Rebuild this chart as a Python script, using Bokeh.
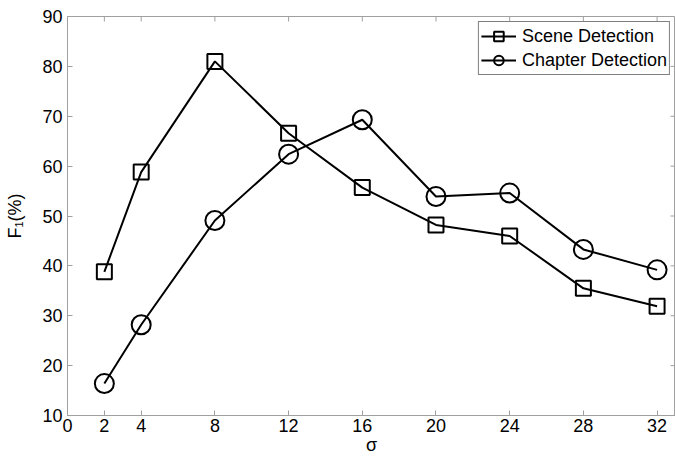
import math
from bokeh.plotting import figure
from bokeh.models import Range1d, FixedTicker
from bokeh.embed import file_html
from bokeh.resources import INLINE

sigma = [2, 4, 8, 12, 16, 20, 24, 28, 32]
scene = [38.8, 58.8, 81.0, 66.6, 55.7, 48.2, 46.0, 35.5, 31.9]
chapter = [16.4, 28.2, 49.1, 62.4, 69.3, 53.9, 54.6, 43.3, 39.2]
x_ticks = [0, 2, 4, 8, 12, 16, 20, 24, 28, 32]
y_ticks = [10, 20, 30, 40, 50, 60, 70, 80, 90]
x_lim = [0, 33]
y_lim = [10, 90]

FONT = "Liberation Sans"
GRAY = "#a0a0a0"
FS = "18px"

p = figure(width=675, height=457, x_range=Range1d(*x_lim), y_range=Range1d(*y_lim),
           output_backend="svg", toolbar_location=None,
           min_border_left=67, min_border_right=0, min_border_top=16, min_border_bottom=42)
p.background_fill_color = "white"
p.border_fill_color = "white"
p.outline_line_color = GRAY
p.xgrid.visible = False
p.ygrid.visible = False

p.xaxis.ticker = FixedTicker(ticks=x_ticks)
p.yaxis.ticker = FixedTicker(ticks=y_ticks)
p.xaxis.axis_label = "σ"
p.yaxis.axis_label = "F₁(%)"

for ax in [p.xaxis[0], p.yaxis[0]]:
    ax.axis_line_color = GRAY
    ax.major_tick_line_color = GRAY
    ax.major_tick_in = 5
    ax.major_tick_out = 0
    ax.minor_tick_line_color = None
    ax.major_label_text_font = FONT
    ax.major_label_text_font_size = FS
    ax.major_label_text_color = "black"
    ax.axis_label_text_font = FONT
    ax.axis_label_text_font_size = FS
    ax.axis_label_text_font_style = "normal"
    ax.axis_label_text_color = "black"
p.xaxis[0].major_label_standoff = 3
p.xaxis[0].axis_label_standoff = 0
p.yaxis[0].major_label_standoff = 5
p.yaxis[0].axis_label_standoff = 14

# tick marks on the top and right edges of the box (clipped to frame -> inward ticks)
p.scatter(x_ticks, [y_lim[1]] * len(x_ticks), marker="dash", size=10, angle=math.pi / 2,
          line_color=GRAY, line_width=1)
p.scatter([x_lim[1]] * len(y_ticks), y_ticks, marker="dash", size=10,
          line_color=GRAY, line_width=1)

p.line(sigma, scene, line_color="black", line_width=2, legend_label="Scene Detection")
p.scatter(sigma, scene, marker="square", size=15, line_color="black", line_width=2,
          fill_alpha=0, legend_label="Scene Detection")
p.line(sigma, chapter, line_color="black", line_width=2, legend_label="Chapter Detection")
p.scatter(sigma, chapter, marker="circle", size=19, line_color="black", line_width=2,
          fill_alpha=0, legend_label="Chapter Detection")

lg = p.legend[0]
lg.location = "top_right"
lg.border_line_color = "black"
lg.border_line_width = 1
lg.background_fill_color = "white"
lg.background_fill_alpha = 1
lg.label_text_font = FONT
lg.label_text_font_size = FS
lg.label_text_color = "black"
lg.margin = 5
lg.padding = 2
lg.spacing = -1
lg.glyph_width = 35
lg.glyph_height = 24
lg.label_height = 22
lg.label_standoff = 6

open("out.html", "w").write(file_html(p, INLINE))
